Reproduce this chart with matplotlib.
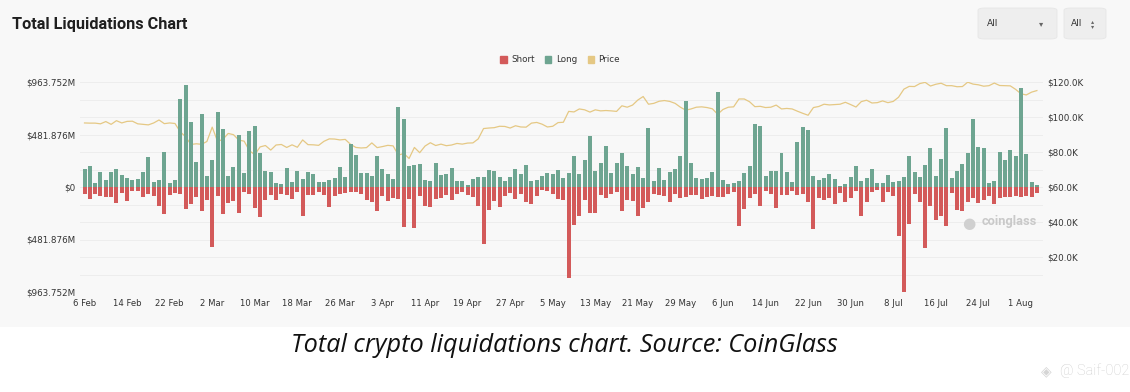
import numpy as np
import pandas as pd
import matplotlib
matplotlib.use("Agg")
import matplotlib.pyplot as plt
from matplotlib.patches import Patch, FancyBboxPatch, Rectangle

# =========================
# data (values in $M, price in $K)
# =========================
START = "2025-02-06"

long_liq = [
    165, 190, 37, 138, 64, 141, 162, 113, 83, 61, 73, 138, 272, 49, 67, 321, 34, 64, 805, 939,
    600, 230, 667, 101, 248, 685, 532, 104, 184, 474, 129, 514, 560, 312, 144, 135, 37, 31, 171, 49,
    147, 77, 141, 119, 46, 43, 61, 86, 180, 95, 395, 291, 132, 133, 101, 286, 165, 117, 75, 736,
    628, 196, 206, 208, 62, 54, 217, 108, 115, 170, 55, 55, 17, 70, 96, 95, 152, 144, 92, 55,
    89, 162, 116, 205, 58, 64, 101, 132, 119, 156, 80, 125, 282, 116, 248, 471, 147, 217, 376, 128,
    217, 309, 196, 116, 184, 80, 542, 58, 174, 61, 141, 165, 288, 789, 220, 86, 70, 86, 141, 869,
    68, 24, 37, 58, 132, 193, 576, 562, 103, 148, 149, 313, 136, 43, 414, 550, 526, 105, 61, 86,
    119, 73, 12, 24, 95, 196, 55, 80, 168, 40, 34, 110, 43, 55, 89, 282, 141, 89, 199, 355,
    104, 254, 539, 80, 144, 208, 315, 627, 364, 358, 40, 55, 318, 251, 343, 282, 912, 300, 43, 21,
]

short_liq = [
    64, 110, 64, 83, 92, 92, 150, 52, 129, 34, 34, 95, 64, 83, 171, 245, 73, 52, 67, 202,
    153, 92, 223, 122, 548, 80, 251, 144, 125, 236, 49, 64, 190, 278, 119, 77, 116, 61, 73, 107,
    49, 263, 77, 73, 49, 70, 180, 80, 61, 58, 43, 48, 61, 116, 141, 223, 86, 125, 98, 113,
    364, 107, 379, 80, 171, 180, 107, 98, 73, 122, 61, 49, 73, 89, 174, 520, 214, 128, 187, 80,
    52, 107, 67, 135, 156, 80, 24, 37, 67, 113, 116, 838, 349, 270, 116, 240, 239, 73, 98, 61,
    43, 218, 122, 128, 263, 192, 135, 61, 73, 80, 141, 61, 104, 92, 73, 73, 110, 92, 86, 92,
    96, 68, 50, 358, 200, 100, 60, 176, 40, 60, 189, 72, 78, 36, 75, 61, 141, 386, 98, 116,
    104, 156, 55, 141, 104, 37, 263, 135, 43, 31, 135, 49, 80, 453, 963.752, 337, 67, 135, 560, 177,
    300, 269, 361, 55, 214, 220, 135, 98, 147, 122, 80, 153, 98, 92, 92, 80, 92, 80, 92, 55,
]

price = [
    96.6, 96.5, 96.5, 96.1, 97.4, 95.8, 97.9, 96.6, 97.5, 97.6, 96.1, 95.8, 95.5, 96.6, 98.3, 96.2,
    96.6, 96.3, 91.5, 88.7, 84.3, 84.7, 84.4,
    86.0, 94.2, 86.1, 87.2, 90.6, 89.9, 86.8, 86.2, 80.7, 78.5, 82.9, 83.7, 81.1, 84.0, 84.3, 82.6,
    84.1, 82.7, 86.9, 84.2, 84.1, 83.8, 86.1, 87.5, 87.4, 86.9, 87.2, 84.4, 82.6, 82.3, 82.5,
    85.2, 82.5, 83.1, 83.8, 83.5, 78.2, 79.2, 76.3, 82.6, 79.6, 83.4, 85.3, 83.7, 84.5, 83.6, 84.0,
    84.9, 84.5, 85.1, 85.2, 87.5, 93.4, 93.7, 93.9, 94.7, 94.6, 93.7, 95.0, 94.3, 94.2,
    96.5, 96.9, 95.9, 94.3, 94.7, 96.8, 97.0, 103.2, 102.9, 104.6, 104.1, 102.8, 104.1, 103.5, 103.7,
    103.5, 103.2, 106.4, 105.6, 106.8, 109.7, 111.7, 107.3, 107.8, 109.0, 109.4, 108.9, 107.8, 105.6,
    103.9, 104.6,
    105.6, 105.8, 105.4, 104.7, 101.6, 104.3, 105.6, 105.8, 110.3, 110.3, 108.7, 105.9, 106.1, 105.4,
    105.6, 106.8, 104.6, 104.9, 104.6, 103.3, 102.1, 101.0, 105.4, 106.0, 107.3, 106.9, 107.1, 107.3,
    108.4, 107.1,
    105.7, 108.8, 109.6, 108.0, 108.2, 109.2, 108.2, 108.9, 111.3, 115.9, 117.5, 117.4, 119.1, 119.8,
    117.7, 118.7, 119.3, 117.9, 117.9, 117.3, 117.4, 119.9, 118.8, 118.4, 117.6, 117.9, 119.4, 118.0,
    117.9, 117.8, 115.8,
    113.3, 112.6, 114.2, 115.1,
]

left_ticks = [-963.752, -481.876, 0, 481.876, 963.752]
left_labels = ["$963.752M", "$481.876M", "$0", "$481.876M", "$963.752M"]
right_ticks = [20, 40, 60, 80, 100, 120]
right_labels = ["$20.0K", "$40.0K", "$60.0K", "$80.0K", "$100.0K", "$120.0K"]

C_SHORT = "#d35a5a"
C_LONG = "#6ea591"
C_PRICE = "#e5c884"
C_TEXT = "#333333"

W, H = 1130, 392
dates = pd.date_range(START, periods=len(long_liq), freq="D")

fig = plt.figure(figsize=(W / 100, H / 100), dpi=100)
fig.patch.set_facecolor("white")
fig.patches.append(Rectangle((0, 1 - 327 / H), 1, 327 / H, transform=fig.transFigure,
                             facecolor="#f8f8f8", edgecolor="none", zorder=-10))

# plot area: x 80..1043, y 82..292 (pixels from top)
rect = [80 / W, 1 - 292 / H, (1043 - 80) / W, (292 - 82) / H]
ax_price = fig.add_axes(rect)
ax = ax_price.twinx()

# price on ax_price (right ticks), bars on ax (left ticks) drawn above the line
ax_price.plot(dates, price, color=C_PRICE, lw=0.9, zorder=1)
ax_price.set_ylim(0, 120)
ax_price.yaxis.tick_right()
ax_price.set_yticks(right_ticks)
ax_price.set_yticklabels(right_labels)
for g in np.arange(10, 121, 10):
    ax_price.axhline(g, color="#ebebeb", lw=0.6, zorder=0)

ax.bar(dates, long_liq, width=0.75, color=C_LONG, zorder=2)
ax.bar(dates, [-v for v in short_liq], width=0.75, color=C_SHORT, zorder=2)
ax.set_ylim(-963.752, 963.752)
ax.yaxis.tick_left()
ax.set_yticks(left_ticks)
ax.set_yticklabels(left_labels)

x0 = dates[0] - pd.Timedelta(days=0.85)
x1 = dates[0] + pd.Timedelta(days=180.15)
xt = dates[::8][:23]
for a in (ax, ax_price):
    a.set_xlim(x0, x1)
    a.set_facecolor("none")
    for s in a.spines.values():
        s.set_visible(False)
    a.tick_params(length=0, labelsize=6.3, colors=C_TEXT, pad=3)
ax_price.set_xticks(xt)
ax_price.set_xticklabels([f"{d.day} {d.strftime('%b')}" for d in xt])
ax_price.tick_params(axis="x", pad=5, labelsize=6.1)
ax.tick_params(axis="x", labelbottom=False)

# legend
handles = [Patch(color=C_SHORT, label="Short"), Patch(color=C_LONG, label="Long"),
           Patch(color=C_PRICE, label="Price")]
fig.legend(handles=handles, loc="center", bbox_to_anchor=(560 / W, 1 - 60 / H), ncol=3,
           frameon=False, fontsize=6.3, handlelength=0.75, handleheight=0.75,
           handletextpad=0.5, columnspacing=1.2, labelcolor=C_TEXT)

# title and selectors
fig.text(12 / W, 1 - 24 / H, "Total Liquidations Chart", fontsize=11.7, fontweight="bold",
         family="Roboto", color="#1f1f1f", va="center", ha="left")
for bx, bw in [(978, 79), (1064, 42)]:
    fig.patches.append(FancyBboxPatch((bx / W, 1 - 39 / H), bw / W, 31 / H,
                                      boxstyle="round,pad=0,rounding_size=0.006",
                                      transform=fig.transFigure, facecolor="#eeeeee",
                                      edgecolor="#e6e6e6", lw=0.6))
fig.text(987 / W, 1 - 24 / H, "All", fontsize=6.5, color=C_TEXT, va="center")
fig.text(1041 / W, 1 - 24 / H, "▾", fontsize=6, color="#666666", va="center", ha="center")
fig.text(1071 / W, 1 - 24 / H, "All", fontsize=6.5, color=C_TEXT, va="center")
fig.text(1093 / W, 1 - 24 / H, "▴\n▾", fontsize=4.5, color="#666666", va="center",
         ha="center", linespacing=0.9)

# watermark
fig.text(969 / W, 1 - 223 / H, "●", fontsize=11, color="#d0d0d0", va="center", ha="center")
fig.text(982 / W, 1 - 222 / H, "coinglass", fontsize=9.3, fontweight="bold", color="#c9c9c9",
         va="center", ha="left", family="Roboto")

# caption
fig.text(564 / W, 1 - 346 / H, "Total crypto liquidations chart. Source: CoinGlass",
         fontsize=18.2, style="italic", family="Open Sans", color="#111111",
         va="center", ha="center")
fig.text(1046 / W, 1 - 371 / H, "◈", fontsize=10, color="#d5d5d5", va="center", ha="center")
fig.text(1060 / W, 1 - 371 / H, "@ Saif-002", fontsize=10.5, color="#cfcfcf", va="center",
         ha="left", family="Roboto", fontweight="light")

fig.savefig("out.png", dpi=100, facecolor=fig.get_facecolor())
